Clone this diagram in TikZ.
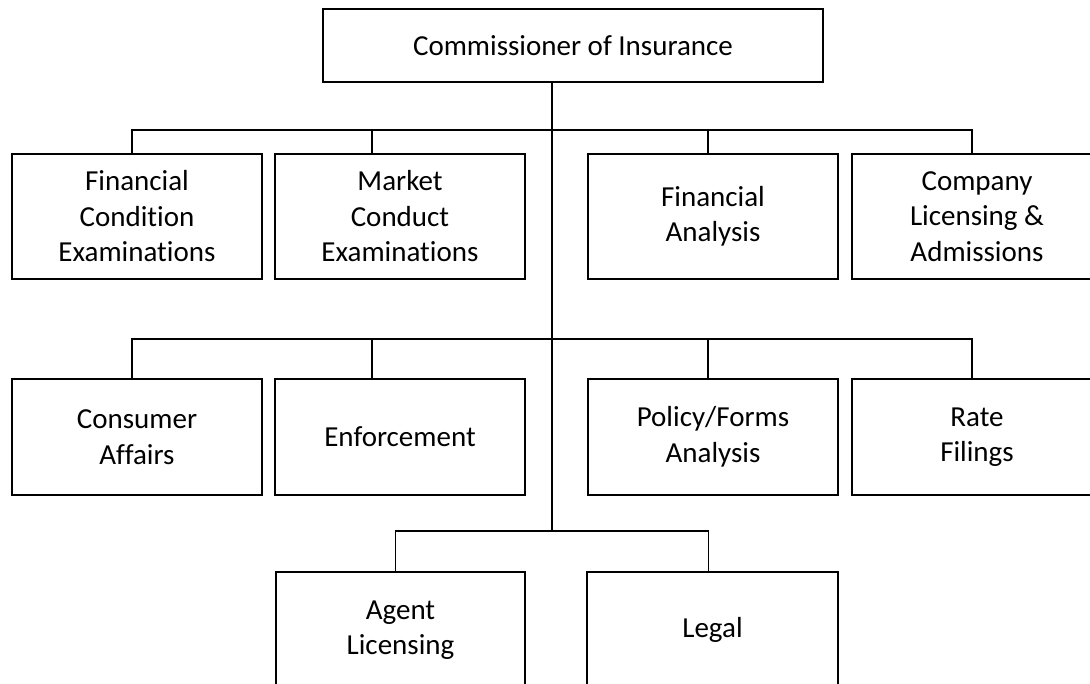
\documentclass[tikz,border=0pt]{standalone}
\usepackage{fontspec}
\setmainfont[Ligatures=NoCommon]{Carlito}
\begin{document}
\begin{tikzpicture}[x=1pt,y=-1pt,
  unit/.style={draw=black, line width=1.6pt, fill=white, align=center,
    inner sep=0pt, outer sep=0pt, anchor=north west,
    minimum width=250pt, font=\fontsize{29}{35.5}\selectfont},
  tallbox/.style={unit, minimum height=125pt},
  shortbox/.style={unit, minimum height=116pt},
  link/.style={draw=black, line width=1.6pt}]
\useasboundingbox (0,0) rectangle (1090,684);
\clip (0,0) rectangle (1090,684);
% top
\node[unit, minimum width=500pt, minimum height=73pt] (top) at (323,9) {Commissioner of Insurance};
% row 1
\node[tallbox] (fc) at (12,154) {\vspace*{6pt}Financial\\Condition\\Examinations};
\node[tallbox] (mc) at (275,154) {\vspace*{6pt}Market\\Conduct\\Examinations};
\node[tallbox] (fa) at (588,154) {\vspace*{8pt}Financial\\Analysis};
\node[tallbox] (cl) at (852,154) {\vspace*{6pt}Company\\Licensing \&\\Admissions};
% row 2
\node[shortbox] (ca) at (12,379) {Consumer\\Affairs};
\node[shortbox] (en) at (275,379) {Enforcement};
\node[shortbox] (pf) at (588,379) {Policy/Forms\\Analysis};
\node[shortbox] (rf) at (852,379) {Rate\\Filings};
% row 3
\node[shortbox, minimum width=249pt] (al) at (276,572) {Agent\\Licensing};
\node[shortbox, minimum width=251pt] (lg) at (587,572) {Legal};
% junctions on the trunk
\coordinate (j1) at (552,130);
\coordinate (j2) at (552,339);
\coordinate (j3) at (552,531);
% trunk
\draw[link] (top.south -| j3) -- (j3);
% row 1 bus and stubs
\draw[link] ([xshift=-5pt]fc.north) |- (j1) -| ([xshift=-5pt]cl.north);
\draw[link] ([xshift=-28pt]mc.north) -- ([xshift=-28pt]mc.north |- j1);
\draw[link] ([xshift=-5pt]fa.north) -- ([xshift=-5pt]fa.north |- j1);
% row 2 bus and stubs
\draw[link] ([xshift=-5pt]ca.north) |- (j2) -| ([xshift=-5pt]rf.north);
\draw[link] ([xshift=-28pt]en.north) -- ([xshift=-28pt]en.north |- j2);
\draw[link] ([xshift=-5pt]pf.north) -- ([xshift=-5pt]pf.north |- j2);
% row 3 bus and stubs
\draw[link] ([xshift=-5pt]al.north) |- (j3) -| ([xshift=-4pt]lg.north);
\end{tikzpicture}
\end{document}
